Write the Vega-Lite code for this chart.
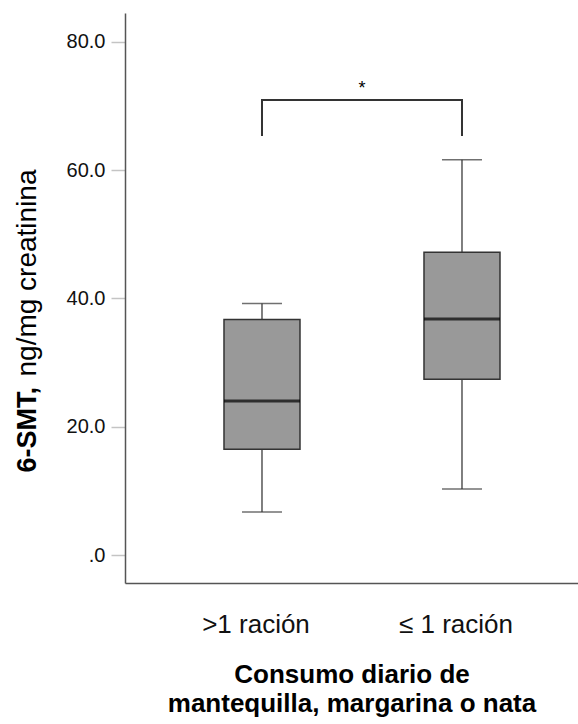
{
  "$schema": "https://vega.github.io/schema/vega-lite/v6.json",
  "width": 453,
  "height": 570,
  "autosize": {"type": "none"},
  "padding": {"left": 125, "top": 13, "right": 0, "bottom": 141},
  "background": "white",
  "config": {"font": "Liberation Sans", "view": {"stroke": null}, "axis": {"grid": false}},
  "datasets": {
    "stats": [
      {"grupo": ">1 ración", "min": 6.7, "q1": 16.5, "median": 24.0, "q3": 36.7, "max": 39.2},
      {"grupo": "≤ 1 ración", "min": 10.3, "q1": 27.4, "median": 36.8, "q3": 47.2, "max": 61.6}
    ],
    "bracket": [
      {"grupo": ">1 ración", "y": 65.3, "orden": 1},
      {"grupo": ">1 ración", "y": 70.9, "orden": 2},
      {"grupo": "≤ 1 ración", "y": 70.9, "orden": 3},
      {"grupo": "≤ 1 ración", "y": 65.3, "orden": 4}
    ],
    "sig": [{"grupo": ">1 ración", "y": 72.6, "texto": "*"}]
  },
  "layer": [
    {
      "data": {"name": "stats"},
      "layer": [
        {
          "mark": {"type": "rule", "color": "#555", "strokeWidth": 1.5},
          "encoding": {
            "x": {
              "field": "grupo", "type": "nominal", "title": ["Consumo diario de", "mantequilla, margarina o nata"],
              "scale": {"domain": [">1 ración", "≤ 1 ración"], "paddingInner": 0, "paddingOuter": 0.1325, "align": 0.698},
              "axis": {
                "titleFontSize": 26, "titleFontWeight": "bold", "titlePadding": 24, "titleLineHeight": 29, "titleColor": "#000",
                "labelFontSize": 26, "labelPadding": 28, "labelOffset": -6, "ticks": false, "tickSize": 0, "labelAngle": 0,
                "domainColor": "#555", "domainWidth": 1.5, "labelColor": "#111"
              }
            },
            "y": {
              "field": "min", "type": "quantitative", "title": "ng/mg creatinina",
              "scale": {"domain": [-4.36, 84.47], "nice": false, "zero": false},
              "axis": {
                "titleFontSize": 28, "titleFontWeight": "normal", "titleColor": "#000",
                "titleX": -90, "titleY": 363, "titleAlign": "left", "titleAngle": -90, "titleBaseline": "alphabetic",
                "values": [0, 20, 40, 60, 80],
                "labelExpr": "datum.value == 0 ? '.0' : format(datum.value, '.1f')",
                "labelFontSize": 20, "labelPadding": 6, "tickSize": 14, "tickColor": "#c4c4c4", "tickWidth": 1.5,
                "domainColor": "#555", "domainWidth": 1.5, "labelColor": "#111"
              }
            },
            "y2": {"field": "max"}
          }
        },
        {
          "mark": {"type": "tick", "color": "#333", "thickness": 1.5, "size": 40},
          "encoding": {
            "x": {"field": "grupo", "type": "nominal", "title": ["Consumo diario de", "mantequilla, margarina o nata"]},
            "y": {"field": "min", "type": "quantitative", "title": "ng/mg creatinina"}
          }
        },
        {
          "mark": {"type": "tick", "color": "#333", "thickness": 1.5, "size": 40},
          "encoding": {
            "x": {"field": "grupo", "type": "nominal", "title": ["Consumo diario de", "mantequilla, margarina o nata"]},
            "y": {"field": "max", "type": "quantitative", "title": "ng/mg creatinina"}
          }
        },
        {
          "mark": {"type": "bar", "fill": "#999999", "stroke": "#333", "strokeWidth": 1.5, "size": 76},
          "encoding": {
            "x": {"field": "grupo", "type": "nominal", "title": ["Consumo diario de", "mantequilla, margarina o nata"]},
            "y": {"field": "q1", "type": "quantitative", "title": "ng/mg creatinina"},
            "y2": {"field": "q3"}
          }
        },
        {
          "mark": {"type": "tick", "color": "#000", "thickness": 3, "size": 76},
          "encoding": {
            "x": {"field": "grupo", "type": "nominal", "title": ["Consumo diario de", "mantequilla, margarina o nata"]},
            "y": {"field": "median", "type": "quantitative", "title": "ng/mg creatinina"}
          }
        }
      ]
    },
    {
      "layer": [
        {
          "data": {"name": "bracket"},
          "mark": {"type": "line", "color": "#333", "strokeWidth": 2},
          "encoding": {
            "x": {"field": "grupo", "type": "nominal", "title": ["Consumo diario de", "mantequilla, margarina o nata"]},
            "y": {
              "field": "y", "type": "quantitative", "title": "6-SMT,",
              "axis": {
                "orient": "left",
                "titleFontSize": 27, "titleFontWeight": "bold", "titleColor": "#000",
                "titleX": -90, "titleY": 459, "titleAlign": "left", "titleAngle": -90, "titleBaseline": "alphabetic",
                "labels": false, "ticks": false, "domain": false, "grid": false
              }
            },
            "order": {"field": "orden"}
          }
        },
        {
          "data": {"name": "sig"},
          "mark": {"type": "text", "fontSize": 18, "baseline": "middle", "color": "#000"},
          "encoding": {
            "x": {"field": "grupo", "type": "nominal", "bandPosition": 1, "title": ["Consumo diario de", "mantequilla, margarina o nata"]},
            "y": {"field": "y", "type": "quantitative", "title": "6-SMT,"},
            "text": {"field": "texto"}
          }
        }
      ]
    }
  ],
  "resolve": {"axis": {"y": "independent"}}
}
